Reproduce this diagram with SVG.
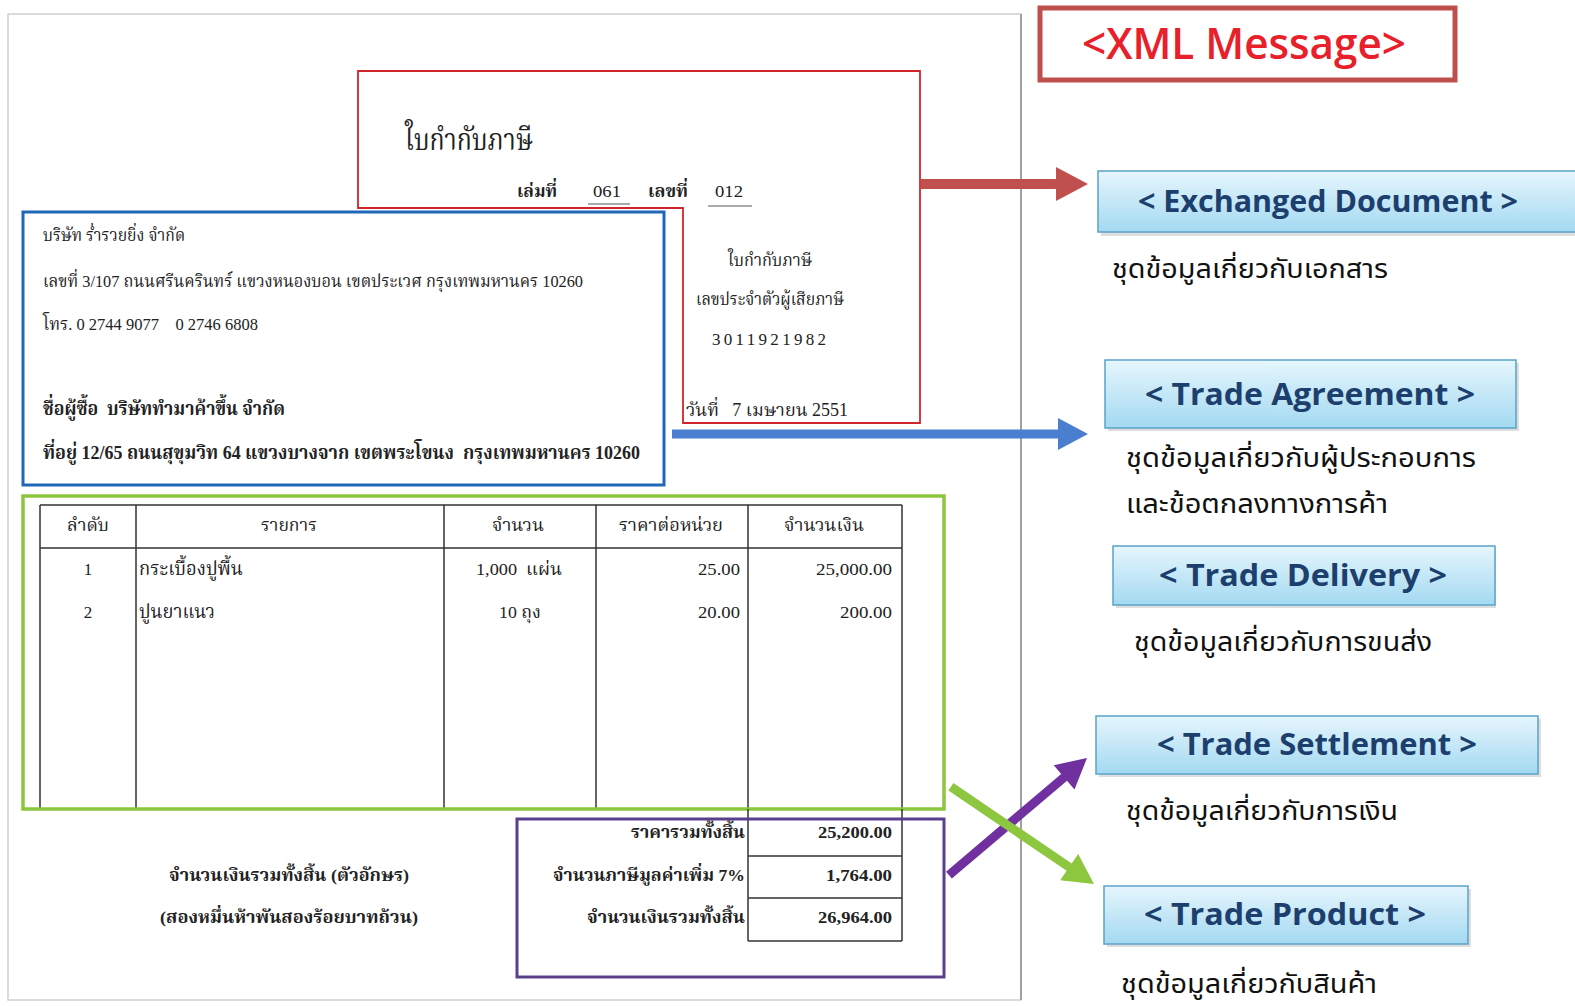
<svg xmlns="http://www.w3.org/2000/svg" width="1575" height="1006" viewBox="0 0 1575 1006">
<defs>
<linearGradient id="boxg" x1="0" y1="0" x2="0" y2="1">
<stop offset="0" stop-color="#e6f6fd"/>
<stop offset="1" stop-color="#a3d9f1"/>
</linearGradient>
<style>
.doc{font-family:"Liberation Serif","Noto Serif Thai","Noto Sans Thai",serif;fill:#222;}
.th{font-family:"Noto Sans Thai","Liberation Sans","Noto Sans",sans-serif;fill:#111;font-size:26px;}
.tag{fill:url(#boxg);stroke:#5aa2c8;stroke-width:1.5;}
.shadow{fill:#c8c8c8;opacity:0.6;}
.tagtxt{font-family:"Open Sans","DejaVu Sans",sans-serif;font-weight:bold;font-size:31px;fill:#1d3f6e;text-anchor:middle;}
.tl{stroke:#333;stroke-width:1.5;fill:none;}
.ul{stroke:#555;stroke-width:1;}
</style>
</defs>
<rect width="1575" height="1006" fill="#fff"/>

<g id="page">
<rect x="8" y="14" width="1013" height="986" fill="#fff" stroke="#d0d0d0" stroke-width="1.5"/>
<line x1="1021" y1="14" x2="1021" y2="1000" stroke="#a0a0a0" stroke-width="2"/>
</g>

<g id="header-box">
<path d="M358 71 H920 V423 H683 V208 H358 Z" fill="#fff" stroke="#d0262b" stroke-width="1.8"/>
<text class="doc" x="405" y="150" font-size="30" textLength="128" lengthAdjust="spacingAndGlyphs">ใบกำกับภาษี</text>
<text class="doc" x="517" y="197" font-size="18" font-weight="bold" textLength="40" lengthAdjust="spacingAndGlyphs">เล่มที่</text>
<text class="doc" x="593" y="197" font-size="17" textLength="28" lengthAdjust="spacingAndGlyphs">061</text>
<line class="ul" x1="588" y1="204" x2="630" y2="204"/>
<text class="doc" x="648" y="197" font-size="18" font-weight="bold" textLength="40" lengthAdjust="spacingAndGlyphs">เลขที่</text>
<text class="doc" x="715" y="197" font-size="17" textLength="28" lengthAdjust="spacingAndGlyphs">012</text>
<line class="ul" x1="708" y1="206" x2="752" y2="206"/>
<text class="doc" x="770" y="266" font-size="17" text-anchor="middle" textLength="84" lengthAdjust="spacingAndGlyphs">ใบกำกับภาษี</text>
<text class="doc" x="770" y="305" font-size="17" text-anchor="middle" textLength="148" lengthAdjust="spacingAndGlyphs">เลขประจำตัวผู้เสียภาษี</text>
<text class="doc" x="771" y="345" font-size="17" text-anchor="middle" letter-spacing="4" textLength="118" lengthAdjust="spacing">3011921982</text>
<text class="doc" x="686" y="416" font-size="18" textLength="162" lengthAdjust="spacingAndGlyphs" xml:space="preserve">วันที่   7 เมษายน 2551</text>
</g>

<g id="party-box">
<rect x="23" y="212" width="641" height="273" fill="#fff" stroke="#1f68b8" stroke-width="3"/>
<text class="doc" x="43" y="241" font-size="17" textLength="142" lengthAdjust="spacingAndGlyphs">บริษัท ร่ำรวยยิ่ง จำกัด</text>
<text class="doc" x="43" y="287" font-size="17" textLength="540" lengthAdjust="spacingAndGlyphs">เลขที่ 3/107 ถนนศรีนครินทร์ แขวงหนองบอน เขตประเวศ กรุงเทพมหานคร 10260</text>
<text class="doc" x="43" y="330" font-size="17" textLength="215" lengthAdjust="spacingAndGlyphs" xml:space="preserve">โทร. 0 2744 9077    0 2746 6808</text>
<text class="doc" x="43" y="415" font-size="20" font-weight="bold" textLength="242" lengthAdjust="spacingAndGlyphs" xml:space="preserve">ชื่อผู้ซื้อ  บริษัททำมาค้าขึ้น จำกัด</text>
<text class="doc" x="43" y="459" font-size="19" font-weight="bold" textLength="597" lengthAdjust="spacingAndGlyphs" xml:space="preserve">ที่อยู่ 12/65 ถนนสุขุมวิท 64 แขวงบางจาก เขตพระโขนง  กรุงเทพมหานคร 10260</text>
</g>

<g id="items-table">
<path class="tl" d="M40 505 H902 M40 548 H902 M40 809 H902 M40 505 V809 M136 505 V809 M444 505 V809 M596 505 V809 M748 505 V809 M902 505 V809"/>
<text class="doc" x="88" y="531" font-size="17" text-anchor="middle" textLength="42" lengthAdjust="spacingAndGlyphs">ลำดับ</text>
<text class="doc" x="289" y="531" font-size="17" text-anchor="middle" textLength="56" lengthAdjust="spacingAndGlyphs">รายการ</text>
<text class="doc" x="518" y="531" font-size="17" text-anchor="middle" textLength="52" lengthAdjust="spacingAndGlyphs">จำนวน</text>
<text class="doc" x="671" y="531" font-size="17" text-anchor="middle" textLength="104" lengthAdjust="spacingAndGlyphs">ราคาต่อหน่วย</text>
<text class="doc" x="824" y="531" font-size="17" text-anchor="middle" textLength="80" lengthAdjust="spacingAndGlyphs">จำนวนเงิน</text>
<text class="doc" x="88" y="575" font-size="17" text-anchor="middle">1</text>
<text class="doc" x="139" y="575" font-size="19" textLength="104" lengthAdjust="spacingAndGlyphs">กระเบื้องปูพื้น</text>
<text class="doc" x="519" y="575" font-size="17" text-anchor="middle" textLength="86" lengthAdjust="spacingAndGlyphs" xml:space="preserve">1,000  แผ่น</text>
<text class="doc" x="740" y="575" font-size="17" text-anchor="end" textLength="42" lengthAdjust="spacingAndGlyphs">25.00</text>
<text class="doc" x="892" y="575" font-size="17" text-anchor="end" textLength="76" lengthAdjust="spacingAndGlyphs">25,000.00</text>
<text class="doc" x="88" y="618" font-size="17" text-anchor="middle">2</text>
<text class="doc" x="139" y="618" font-size="19" textLength="76" lengthAdjust="spacingAndGlyphs">ปูนยาแนว</text>
<text class="doc" x="520" y="618" font-size="17" text-anchor="middle" textLength="42" lengthAdjust="spacingAndGlyphs">10 ถุง</text>
<text class="doc" x="740" y="618" font-size="17" text-anchor="end" textLength="42" lengthAdjust="spacingAndGlyphs">20.00</text>
<text class="doc" x="892" y="618" font-size="17" text-anchor="end" textLength="52" lengthAdjust="spacingAndGlyphs">200.00</text>
</g>

<g id="items-box">
<rect x="23" y="496" width="921" height="313" fill="none" stroke="#8cc63f" stroke-width="3.5"/>
</g>

<g id="totals-table">
<path class="tl" d="M748 809 V941 M902 809 V941 M748 856 H902 M748 898 H902 M748 941 H902"/>
<text class="doc" x="745" y="838" font-size="17" font-weight="bold" text-anchor="end" textLength="114" lengthAdjust="spacingAndGlyphs">ราคารวมทั้งสิ้น</text>
<text class="doc" x="892" y="838" font-size="17" font-weight="bold" text-anchor="end" textLength="74" lengthAdjust="spacingAndGlyphs">25,200.00</text>
<text class="doc" x="745" y="881" font-size="17" font-weight="bold" text-anchor="end" textLength="192" lengthAdjust="spacingAndGlyphs">จำนวนภาษีมูลค่าเพิ่ม 7%</text>
<text class="doc" x="892" y="881" font-size="17" font-weight="bold" text-anchor="end" textLength="66" lengthAdjust="spacingAndGlyphs">1,764.00</text>
<text class="doc" x="745" y="923" font-size="17" font-weight="bold" text-anchor="end" textLength="158" lengthAdjust="spacingAndGlyphs">จำนวนเงินรวมทั้งสิ้น</text>
<text class="doc" x="892" y="923" font-size="17" font-weight="bold" text-anchor="end" textLength="74" lengthAdjust="spacingAndGlyphs">26,964.00</text>
<text class="doc" x="289" y="881" font-size="17" font-weight="bold" text-anchor="middle" textLength="240" lengthAdjust="spacingAndGlyphs">จำนวนเงินรวมทั้งสิ้น (ตัวอักษร)</text>
<text class="doc" x="289" y="923" font-size="17" font-weight="bold" text-anchor="middle" textLength="258" lengthAdjust="spacingAndGlyphs">(สองหมื่นห้าพันสองร้อยบาทถ้วน)</text>
</g>

<g id="totals-box">
<rect x="517" y="819" width="427" height="158" fill="none" stroke="#5a3f8c" stroke-width="3"/>
</g>

<g id="xml-message">
<rect x="1040" y="8" width="415" height="72" fill="#fff" stroke="#bf4f4d" stroke-width="5"/>
<text x="1244" y="59" font-family="'Open Sans','DejaVu Sans',sans-serif" font-size="43" font-weight="600" fill="#e8202a" text-anchor="middle" textLength="324" lengthAdjust="spacingAndGlyphs">&lt;XML Message&gt;</text>
</g>

<g id="exchanged-document">
<rect class="shadow" x="1101" y="175" width="480" height="61"/>
<rect class="tag" x="1098" y="171" width="482" height="61"/>
<text class="tagtxt" x="1328" y="212" textLength="380" lengthAdjust="spacingAndGlyphs">&lt; Exchanged Document &gt;</text>
<text class="th" x="1112" y="278" textLength="276" lengthAdjust="spacingAndGlyphs">ชุดข้อมูลเกี่ยวกับเอกสาร</text>
</g>

<g id="trade-agreement">
<rect class="shadow" x="1108" y="363" width="411" height="68"/>
<rect class="tag" x="1105" y="360" width="411" height="68"/>
<text class="tagtxt" x="1310" y="405" textLength="330" lengthAdjust="spacingAndGlyphs">&lt; Trade Agreement &gt;</text>
<text class="th" x="1126" y="467" textLength="350" lengthAdjust="spacingAndGlyphs">ชุดข้อมูลเกี่ยวกับผู้ประกอบการ</text>
<text class="th" x="1126" y="513" textLength="262" lengthAdjust="spacingAndGlyphs">และข้อตกลงทางการค้า</text>
</g>

<g id="trade-delivery">
<rect class="shadow" x="1116" y="549" width="380" height="59"/>
<rect class="tag" x="1113" y="546" width="382" height="59"/>
<text class="tagtxt" x="1303" y="586" textLength="288" lengthAdjust="spacingAndGlyphs">&lt; Trade Delivery &gt;</text>
<text class="th" x="1134" y="651" textLength="298" lengthAdjust="spacingAndGlyphs">ชุดข้อมูลเกี่ยวกับการขนส่ง</text>
</g>

<g id="trade-settlement">
<rect class="shadow" x="1099" y="719" width="442" height="58"/>
<rect class="tag" x="1096" y="716" width="442" height="58"/>
<text class="tagtxt" x="1317" y="755" textLength="320" lengthAdjust="spacingAndGlyphs">&lt; Trade Settlement &gt;</text>
<text class="th" x="1126" y="820" textLength="272" lengthAdjust="spacingAndGlyphs">ชุดข้อมูลเกี่ยวกับการเงิน</text>
</g>

<g id="trade-product">
<rect class="shadow" x="1107" y="889" width="364" height="58"/>
<rect class="tag" x="1104" y="886" width="364" height="58"/>
<text class="tagtxt" x="1285" y="925" textLength="282" lengthAdjust="spacingAndGlyphs">&lt; Trade Product &gt;</text>
<text class="th" x="1121" y="993" textLength="256" lengthAdjust="spacingAndGlyphs">ชุดข้อมูลเกี่ยวกับสินค้า</text>
</g>

<g id="connectors">
<path fill="#c0504d" transform="translate(1088 184)" d="M0 0 L-32 -17 L-32 -5 L-167 -5 L-167 5 L-32 5 L-32 17 Z"/>
<path fill="#4a7fd0" transform="translate(1088 434)" d="M0 0 L-30 -16 L-30 -4.5 L-416 -4.5 L-416 4.5 L-30 4.5 L-30 16 Z"/>
<path fill="#7030a0" transform="translate(1087 758) rotate(-40.3)" d="M0 0 L-30 -16 L-30 -4.5 L-181 -4.5 L-181 4.5 L-30 4.5 L-30 16 Z"/>
<path fill="#8dc63f" transform="translate(1094 884) rotate(34.2)" d="M0 0 L-30 -16 L-30 -4.5 L-173 -4.5 L-173 4.5 L-30 4.5 L-30 16 Z"/>
</g>
</svg>
